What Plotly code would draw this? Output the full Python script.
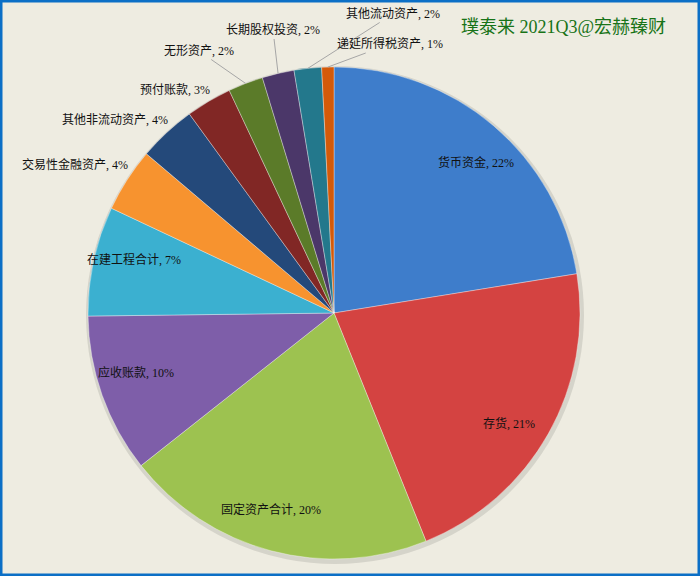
import math
import plotly.graph_objects as go

# data (share of total assets)
labels = ['货币资金', '存货', '固定资产合计', '应收账款', '在建工程合计', '交易性金融资产',
          '其他非流动资产', '预付账款', '无形资产', '长期股权投资', '其他流动资产', '递延所得税资产']
values = [22.45, 21.45, 20.45, 10.45, 7.2, 4.2, 3.8, 3.0, 2.3, 2.1, 1.8, 0.8]
colors = ['#3E7DCB', '#D44341', '#9DC250', '#7E5EA9', '#3BB0D0', '#F7932F',
          '#24497A', '#812725', '#5B7B29', '#4B3769', '#23788C', '#D45A09']
title_text = '璞泰来 2021Q3@宏赫臻财'

W, H = 700, 576
CX, CY, R = 334, 313, 246          # pie centre / radius in pixels
FONT = 'Liberation Serif, Noto Sans CJK SC, serif'

# label placement: inside labels sit at inside_r * R on the slice mid-angle,
# outside labels at fixed pixel centres (x, y, draw leader line)
inside_r = 0.84
outside_pos = {
    '交易性金融资产': (75, 165, False),
    '其他非流动资产': (115, 120, False),
    '预付账款': (175, 90, False),
    '无形资产': (199, 51, True),
    '长期股权投资': (273, 30, True),
    '其他流动资产': (393, 14, True),
    '递延所得税资产': (390, 44, True),
}

total = sum(values)
fig = go.Figure(go.Pie(
    labels=labels, values=values, sort=False, direction='clockwise', rotation=0,
    marker=dict(colors=colors, line=dict(color='rgba(255,255,255,0.35)', width=1)),
    textinfo='none', hoverinfo='label+percent', showlegend=False,
    domain=dict(x=[(CX - R) / W, (CX + R) / W], y=[1 - (CY + R) / H, 1 - (CY - R) / H]),
))

label_font = dict(size=12, color='#111', family=FONT)
annotations = []
cum = 0.0
for lab, v in zip(labels, values):
    mid = (cum + v / 2) / total * 2 * math.pi
    cum += v
    pct = round(v / total * 100)
    txt = '%s, %d%%' % (lab, pct)
    if lab in outside_pos:
        lx, ly, line = outside_pos[lab]
        tx = CX + R * math.sin(mid)
        ty = CY - R * math.cos(mid)
        if line:
            annotations.append(dict(
                x=tx / W, y=1 - ty / H, xref='paper', yref='paper',
                ax=lx - tx, ay=ly - ty, showarrow=True, arrowhead=0, arrowwidth=1,
                arrowcolor='#A6A6A6', text=txt, font=label_font))
        else:
            annotations.append(dict(
                x=lx / W, y=1 - ly / H, xref='paper', yref='paper', showarrow=False,
                xanchor='center', yanchor='middle', text=txt, font=label_font))
    else:
        # nudge a little towards the clockwise side, like the Excel best-fit labels
        ang = mid + 0.05
        px_ = CX + inside_r * R * math.sin(ang)
        py_ = CY - inside_r * R * math.cos(ang)
        annotations.append(dict(
            x=px_ / W, y=1 - py_ / H, xref='paper', yref='paper', showarrow=False,
            xanchor='center', yanchor='middle', text=txt, font=label_font))

annotations.append(dict(
    x=563 / W, y=1 - 27 / H, xref='paper', yref='paper', showarrow=False,
    xanchor='center', yanchor='middle',
    text=title_text, font=dict(size=18, color='#177317', family=FONT)))

fig.update_layout(
    width=W, height=H, margin=dict(l=0, r=0, t=0, b=0),
    paper_bgcolor='#EEECE1', plot_bgcolor='#EEECE1',
    annotations=annotations,
    shapes=[
        # soft shadow behind the pie
        dict(type='circle', xref='paper', yref='paper', layer='below',
             x0=(CX - R - 2) / W, x1=(CX + R + 4) / W,
             y0=1 - (CY + R + 5) / H, y1=1 - (CY - R - 1) / H,
             fillcolor='rgba(0,0,0,0.10)', line=dict(width=0)),
        # blue frame
        dict(type='rect', xref='paper', yref='paper', x0=0, x1=1, y0=0, y1=1,
             line=dict(color='#0B6FC6', width=5)),
    ],
)

fig.write_html('out.html', config={'displayModeBar': False},
               post_script="document.body.style.margin='0';document.body.style.overflow='hidden';")
